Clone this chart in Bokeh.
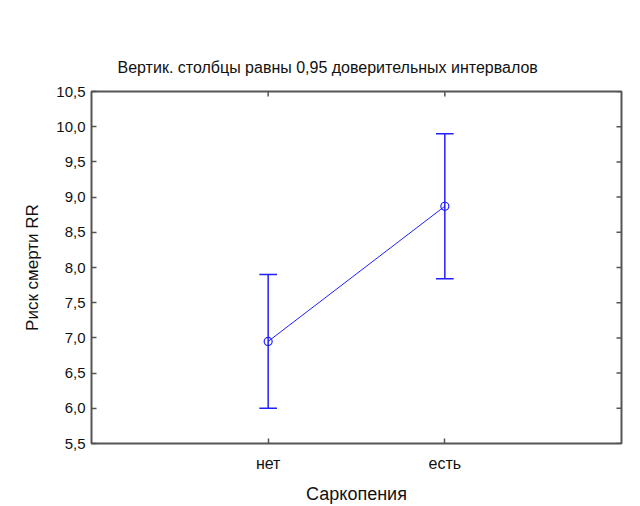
import math
from bokeh.plotting import figure
from bokeh.models import (Range1d, FixedTicker, CustomJSTickFormatter, Whisker,
                          ColumnDataSource, Title)
from bokeh.embed import file_html
from bokeh.resources import INLINE

# Risk of death (RR) by sarcopenia status, mean with 95% CI
categories = ["нет", "есть"]
positions = [1, 2]
means = [6.95, 8.87]
lower = [6.00, 7.84]
upper = [7.90, 9.90]
y_ticks = [5.5, 6.0, 6.5, 7.0, 7.5, 8.0, 8.5, 9.0, 9.5, 10.0, 10.5]

FONT = "Liberation Sans"
BLUE = "#1f1fff"
FRAME = "#555555"
X_MIN, X_MAX = 0, 3

src = ColumnDataSource(dict(x=positions, mean=means, lo=lower, hi=upper))

p = figure(width=640, height=506, output_backend="svg", toolbar_location=None,
           x_range=Range1d(X_MIN, X_MAX), y_range=Range1d(5.5, 10.5),
           min_border_left=91, min_border_right=19, min_border_top=91, min_border_bottom=63)
p.title = Title(text="Вертик. столбцы равны 0,95 доверительных интервалов", align="left",
                offset=26, text_font=FONT, text_font_size="16px", text_font_style="normal",
                text_color="#111111", standoff=31)

p.grid.visible = False
p.outline_line_color = FRAME
p.outline_line_width = 2
p.background_fill_color = "white"
p.border_fill_color = "white"

# error bars and means
p.add_layout(Whisker(source=src, base="x", lower="lo", upper="hi", dimension="height",
                     line_color=BLUE, line_width=1.5,
                     upper_head=None, lower_head=None))
p.segment(x0=[x - 0.05 for x in positions], x1=[x + 0.05 for x in positions],
          y0=upper, y1=upper, line_color=BLUE, line_width=1.5)
p.segment(x0=[x - 0.05 for x in positions], x1=[x + 0.05 for x in positions],
          y0=lower, y1=lower, line_color=BLUE, line_width=1.5)
p.line("x", "mean", source=src, line_color=BLUE, line_width=1)
p.scatter("x", "mean", source=src, marker="circle", size=8, fill_color=None,
          line_color=BLUE, line_width=1.2)

# inward tick marks on the right and top edges (half of each dash is clipped by the frame)
p.scatter(x=[X_MAX] * len(y_ticks), y=y_ticks, marker="dash", size=10,
          line_color=FRAME, line_width=1.5)
p.scatter(x=positions, y=[10.5] * len(positions), marker="dash", size=10, angle=math.pi / 2,
          line_color=FRAME, line_width=1.5)

fmt = CustomJSTickFormatter(code="return tick.toFixed(1).replace('.', ',');")

def style_axis(ax):
    ax.axis_line_color = None
    ax.major_tick_in = 5
    ax.major_tick_out = 0
    ax.minor_tick_in = 0
    ax.minor_tick_out = 0
    ax.major_tick_line_color = FRAME
    ax.major_tick_line_width = 1.5
    ax.major_label_text_font = FONT
    ax.axis_label_text_font = FONT
    ax.axis_label_text_font_style = "normal"
    ax.major_label_text_color = "#111111"
    ax.axis_label_text_color = "#111111"

ya = p.yaxis[0]
style_axis(ya)
ya.ticker = FixedTicker(ticks=y_ticks)
ya.formatter = fmt
ya.major_label_text_font_size = "15px"
ya.major_label_standoff = 6
ya.axis_label = "Риск смерти RR"
ya.axis_label_text_font_size = "17px"
ya.axis_label_standoff = 11

xa = p.xaxis[0]
style_axis(xa)
xa.ticker = FixedTicker(ticks=positions)
xa.major_label_overrides = {pos: lab for pos, lab in zip(positions, categories)}
xa.major_label_text_font_size = "16px"
xa.major_label_standoff = 11
xa.axis_label = "Саркопения"
xa.axis_label_text_font_size = "18px"
xa.axis_label_standoff = 9

open("out.html", "w").write(file_html(p, INLINE))
